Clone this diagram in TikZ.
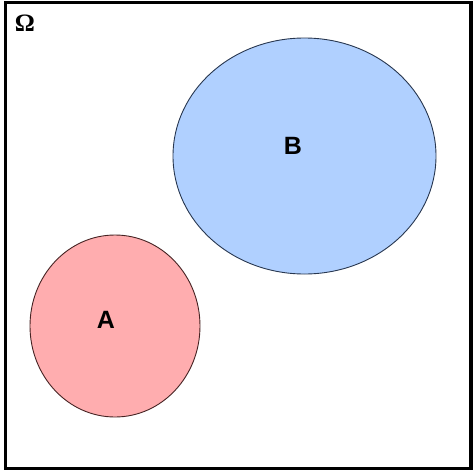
\documentclass[tikz,border=0pt]{standalone}
\usepackage{fontspec}
\setmainfont{Liberation Serif}
\newfontfamily\labfont{Liberation Sans}
\definecolor{fillA}{RGB}{255,173,175}
\definecolor{lineA}{RGB}{70,35,35}
\definecolor{fillB}{RGB}{176,208,255}
\definecolor{lineB}{RGB}{40,55,80}
\begin{document}
\begin{tikzpicture}[x=1pt,y=-1pt,
  setlabel/.style={font=\labfont\bfseries\fontsize{25}{28}\selectfont, inner sep=0pt}]
\useasboundingbox (0,0) rectangle (474,472);
\draw[line width=3.5pt] (5.5,2.5) rectangle (471,468.5);
\node[font=\bfseries\fontsize{25}{28}\selectfont, inner sep=0pt] (omega) at (25,23) {Ω};
\draw[fill=fillA, draw=lineA, line width=0.9pt] (115,326) ellipse [x radius=85, y radius=91];
\draw[fill=fillB, draw=lineB, line width=0.9pt] (304.5,156) ellipse [x radius=131.5, y radius=118];
\node[setlabel] (labA) at (106,320) {A};
\node[setlabel] (labB) at (293,145.5) {B};
\end{tikzpicture}
\end{document}
